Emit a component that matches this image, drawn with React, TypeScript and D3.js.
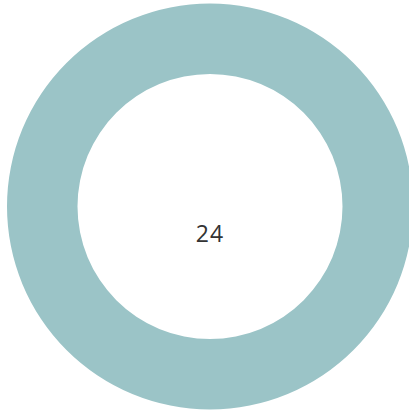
import React from "react";
import * as d3 from "d3";

const categories = ["Total"];
const values = [24];
const centerLabel = "24";

export default function App() {
  const width = 409;
  const height = 412;
  const cx = 210;
  const cy = 206.5;
  const outerR = 203;
  const innerR = 132.5;
  const pie = d3.pie<number>().sort(null).value((d) => d);
  const arcs = pie(values);
  const arc = d3.arc<d3.PieArcDatum<number>>().innerRadius(innerR).outerRadius(outerR);
  return (
    <svg
      width={width}
      height={height}
      style={{ position: "absolute", left: 0, top: 0, background: "#fff" }}
    >
      <g transform={`translate(${cx},${cy})`}>
        {arcs.map((a, i) => (
          <path key={categories[i]} d={arc(a) || ""} fill="#9bc4c7" />
        ))}
        <text
          x={0}
          y={35.5}
          textAnchor="middle"
          fontFamily="'Open Sans', sans-serif"
          fontSize={23}
          fill="#333"
          letterSpacing={1}
        >
          {centerLabel}
        </text>
      </g>
    </svg>
  );
}
